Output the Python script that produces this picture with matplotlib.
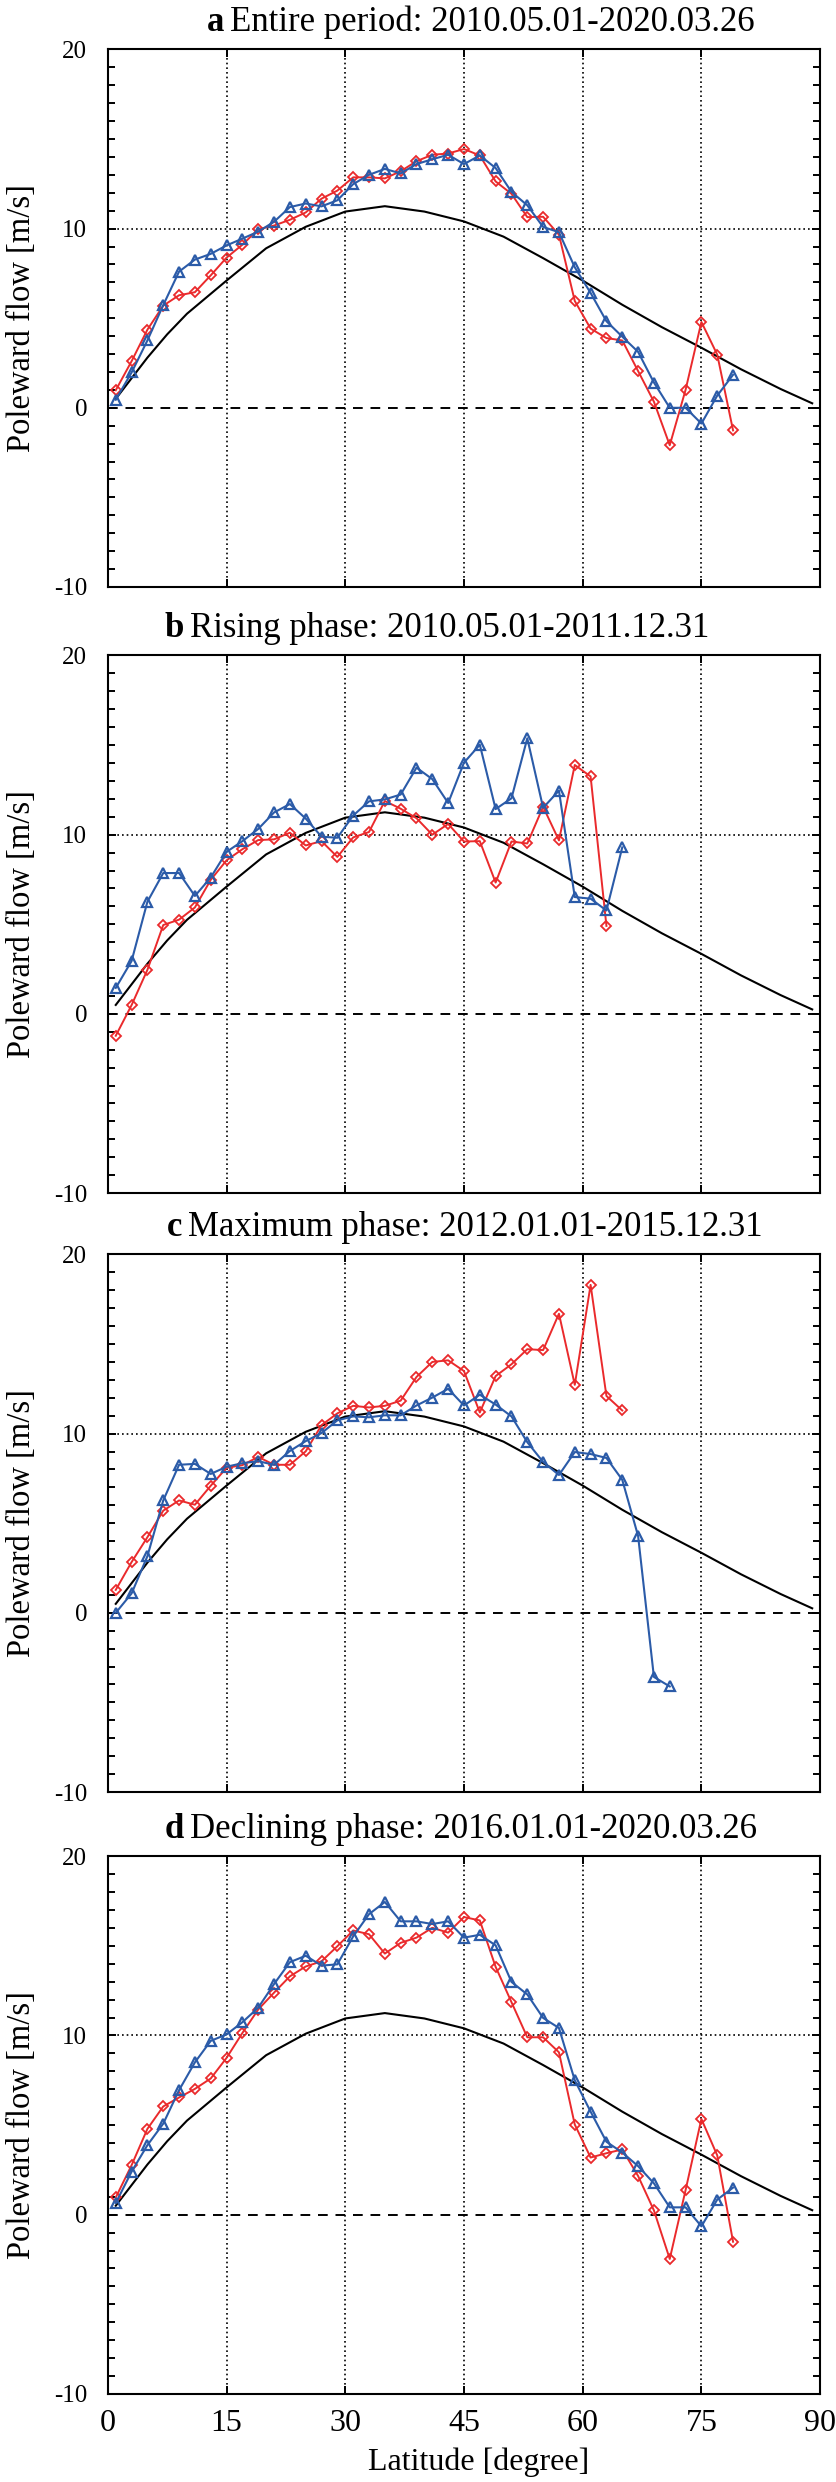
import numpy as np
import matplotlib.pyplot as plt
from matplotlib.ticker import MultipleLocator

plt.rcParams['font.family'] = ['Liberation Serif', 'DejaVu Serif']
plt.rcParams['axes.unicode_minus'] = False

# latitude bins (degrees)
lat = [1, 3, 5, 7, 9, 11, 13, 15, 17, 19, 21, 23, 25, 27, 29, 31, 33, 35, 37, 39,
       41, 43, 45, 47, 49, 51, 53, 55, 57, 59, 61, 63, 65, 67, 69, 71, 73, 75, 77, 79]

# reference profile (black curve)
model_lat = [1, 5, 7.5, 10, 15, 20, 25, 30, 35, 40, 45, 50, 55, 60, 65, 70, 75, 80, 85, 89]
model_v = [0.5, 2.8, 4.1, 5.25, 7.1, 8.9, 10.1, 10.95, 11.25, 10.95, 10.4, 9.55, 8.35,
           7.1, 5.75, 4.5, 3.35, 2.15, 1.05, 0.25]

# a: entire period
a_red = [0.98, 2.6, 4.36, 5.7, 6.28, 6.45, 7.39, 8.38, 9.1, 9.96,
         10.17, 10.49, 10.9, 11.67, 12.12, 12.86, 12.86, 12.8, 13.2, 13.76,
         14.12, 14.19, 14.44, 14.08, 12.63, 11.94, 10.64, 10.66, 9.66, 5.96,
         4.42, 3.89, 3.76, 2.05, 0.34, -2.09, 1.0, 4.79, 2.97, -1.26]
a_blue = [0.45, 1.97, 3.76, 5.73, 7.6, 8.27, 8.59, 9.06, 9.44, 9.83,
          10.38, 11.2, 11.4, 11.24, 11.58, 12.48, 13.0, 13.33, 13.08, 13.6,
          13.87, 14.12, 13.6, 14.08, 13.38, 12.05, 11.3, 10.09, 9.8, 7.84,
          6.41, 4.83, 3.97, 3.12, 1.41, 0.0, 0.0, -0.88, 0.68, 1.84]

# b: rising phase
b_red = [-1.22, 0.49, 2.46, 4.96, 5.26, 5.94, 7.48, 8.57, 9.19, 9.7,
         9.74, 10.11, 9.4, 9.64, 8.76, 9.85, 10.15, 11.88, 11.45, 10.92,
         10.0, 10.6, 9.62, 9.64, 7.33, 9.62, 9.51, 11.56, 9.68, 13.89,
         13.25, 4.91]
b_blue = [1.45, 2.95, 6.26, 7.86, 7.86, 6.58, 7.61, 9.04, 9.64, 10.32,
          11.24, 11.71, 10.9, 9.89, 9.83, 11.07, 11.86, 11.97, 12.24, 13.74,
          13.1, 11.77, 14.02, 15.02, 11.43, 12.03, 15.38, 11.5, 12.46, 6.52,
          6.43, 5.77, 9.29]

# c: maximum phase
c_red = [1.28, 2.83, 4.22, 5.7, 6.27, 6.03, 7.09, 8.09, 8.24, 8.7,
         8.26, 8.26, 9.01, 10.47, 11.13, 11.55, 11.46, 11.55, 11.84, 13.16,
         14.0, 14.09, 13.49, 11.18, 13.21, 13.87, 14.71, 14.66, 16.69, 12.72,
         18.3, 12.1, 11.29]
c_blue = [0.0, 1.08, 3.16, 6.27, 8.26, 8.31, 7.75, 8.15, 8.35, 8.46,
          8.26, 9.03, 9.58, 10.03, 10.74, 10.96, 10.91, 11.02, 11.02, 11.57,
          12.01, 12.5, 11.57, 12.17, 11.62, 10.96, 9.52, 8.42, 7.69, 8.97,
          8.86, 8.64, 7.42, 4.29, -3.58, -4.11]

# d: declining phase
d_red = [0.96, 2.76, 4.79, 6.04, 6.54, 7.02, 7.6, 8.75, 10.14, 11.45,
         12.39, 13.3, 13.85, 14.14, 14.98, 15.86, 15.65, 14.57, 15.17, 15.46,
         16.01, 15.74, 16.61, 16.42, 13.83, 11.86, 9.9, 9.9, 9.06, 5.03,
         3.19, 3.43, 3.64, 2.16, 0.24, -2.47, 1.37, 5.34, 3.31, -1.51]
d_blue = [0.65, 2.4, 3.88, 5.08, 6.95, 8.5, 9.7, 10.06, 10.74, 11.55,
          12.87, 14.09, 14.45, 13.9, 13.97, 15.53, 16.77, 17.45, 16.37, 16.37,
          16.22, 16.37, 15.46, 15.62, 15.03, 12.99, 12.29, 10.98, 10.42, 7.5,
          5.75, 4.07, 3.47, 2.71, 1.75, 0.41, 0.41, -0.65, 0.84, 1.51]

letters = ['a', 'b', 'c', 'd']
titles = ['Entire period: 2010.05.01-2020.03.26',
          'Rising phase: 2010.05.01-2011.12.31',
          'Maximum phase: 2012.01.01-2015.12.31',
          'Declining phase: 2016.01.01-2020.03.26']
reds = [a_red, b_red, c_red, d_red]
blues = [a_blue, b_blue, c_blue, d_blue]

RED = '#ea2a2c'
BLUE = '#2b5ba8'

title_x = [0.139, 0.08, 0.083, 0.08]
bottoms = [0.7635, 0.5193, 0.278, 0.0355]

fig = plt.figure(figsize=(8.36, 24.82), dpi=100)

for i in range(4):
    ax = fig.add_axes([0.129, bottoms[i], 0.852, 0.2166])
    ax.set_xlim(0, 90)
    ax.set_ylim(-10, 20)
    ax.set_xticks([0, 15, 30, 45, 60, 75, 90])
    ax.set_yticks([-10, 0, 10, 20])
    ax.yaxis.set_minor_locator(MultipleLocator(1))
    ax.grid(axis='x', color='black', lw=1.2, ls=(0, (1, 1.8)))
    ax.axhline(10, color='black', lw=1.2, ls=(0, (1, 1.8)))
    ax.axhline(0, color='black', lw=1.4, ls=(0, (5, 4)))

    ax.plot(model_lat, model_v, color='black', lw=1.5, zorder=3)
    r = reds[i]
    b = blues[i]
    ax.plot(lat[:len(r)], r, color=RED, lw=1.4, marker='D', ms=4.6,
            mfc='none', mec=RED, mew=1.3, zorder=4)
    ax.plot(lat[:len(b)], b, color=BLUE, lw=1.5, marker='^', ms=7.5,
            mfc='none', mec=BLUE, mew=1.6, zorder=5)

    for s in ax.spines.values():
        s.set_linewidth(1.5)
    ax.tick_params(which='both', direction='in', top=True, right=True, width=1.4)
    ax.tick_params(which='major', length=6)
    ax.tick_params(which='minor', length=5)
    ax.tick_params(axis='y', labelsize=18, pad=15)
    ax.tick_params(axis='x', labelsize=23, pad=11)
    if i < 3:
        ax.tick_params(axis='x', labelbottom=False)
    else:
        ax.set_xlabel('Latitude [degree]', fontsize=23)
        ax.xaxis.set_label_coords(0.52, -0.1)

    ax.set_ylabel('Poleward flow [m/s]', fontsize=23.5)
    ax.yaxis.set_label_coords(-0.1, 0.5)

    t1 = ax.text(title_x[i], 1.02, letters[i], transform=ax.transAxes,
                 fontsize=25, fontweight='bold', va='bottom', ha='left')
    ax.annotate(titles[i], xy=(1, 0), xycoords=t1, xytext=(4, 0),
                textcoords='offset points', fontsize=25, va='bottom', ha='left')

fig.savefig('out.png', dpi=100)
